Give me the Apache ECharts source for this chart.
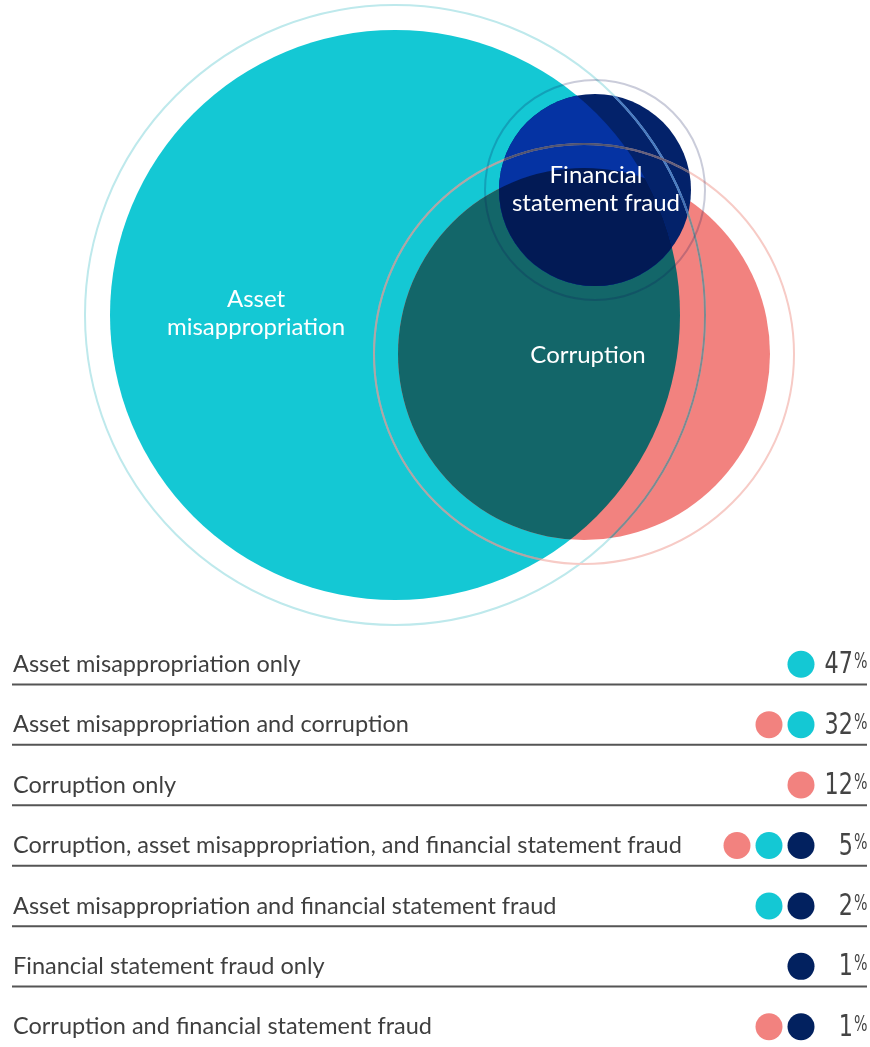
<!DOCTYPE html>
<html>
<head>
<meta charset="utf-8">
<style>
  html, body { margin: 0; padding: 0; background: #fff; }
  #main { width: 870px; height: 1047px; }
</style>
<script src="https://cdn.jsdelivr.net/npm/echarts@6/dist/echarts.min.js"></script>
</head>
<body>
<div id="main"></div>
<script>
// venn circles (0 = asset misappropriation, 1 = corruption, 2 = financial statement fraud)
var setLabels = ['Asset\nmisappropriation', 'Corruption', 'Financial\nstatement fraud'];
var circleX = [395, 584, 595];
var circleY = [315, 354, 190];
var circleR = [285, 186, 96];
var ringR = [310, 210, 110];
var labelX = [256, 588, 596];
var labelY = [313, 355, 189];

// table rows
var rowNames = [
  'Asset misappropriation only',
  'Asset misappropriation and corruption',
  'Corruption only',
  'Corruption, asset misappropriation, and financial statement fraud',
  'Asset misappropriation and financial statement fraud',
  'Financial statement fraud only',
  'Corruption and financial statement fraud'
];
var rowValues = [47, 32, 12, 5, 2, 1, 1];
var rowSets = [[0], [1, 0], [1], [1, 0, 2], [0, 2], [2], [1, 2]];

var CYAN = '#14C8D4';
var SALMON = '#F2827F';
var TEAL = '#136669';
var NAVY = '#03226A';
var NAVY_ON_CYAN = '#0533A3';
var NAVY_ON_TEAL = '#021A55';
var dotColors = [CYAN, SALMON, '#02215F'];

var chart = echarts.init(document.getElementById('main'));

function circ(api, i, rr) {
  var c = api.coord([circleX[i], circleY[i]]);
  var r = api.size([rr == null ? circleR[i] : rr, 0])[0];
  return { cx: c[0], cy: c[1], r: r };
}

function renderCircle(params, api) {
  var i = params.dataIndex;
  var s = circ(api, i);
  if (i === 0) {
    return { type: 'circle', shape: s, style: { fill: CYAN } };
  }
  if (i === 1) {
    return {
      type: 'group',
      children: [
        { type: 'circle', shape: s, style: { fill: SALMON } },
        { type: 'circle', shape: s, style: { fill: TEAL },
          clipPath: { type: 'circle', shape: circ(api, 0) } }
      ]
    };
  }
  return {
    type: 'group',
    children: [
      { type: 'circle', shape: s, style: { fill: NAVY } },
      { type: 'circle', shape: s, style: { fill: NAVY_ON_CYAN },
        clipPath: { type: 'circle', shape: circ(api, 0) } },
      { type: 'group', clipPath: { type: 'circle', shape: circ(api, 0) },
        children: [
          { type: 'circle', shape: s, style: { fill: NAVY_ON_TEAL },
            clipPath: { type: 'circle', shape: circ(api, 1) } }
        ] }
    ]
  };
}

function ringEl(shape, color, clipIdx, api) {
  var el = { type: 'circle', shape: shape, style: { fill: null, stroke: color, lineWidth: 2 } };
  if (clipIdx != null) el.clipPath = { type: 'circle', shape: circ(api, clipIdx) };
  return el;
}

function renderRing(params, api) {
  var i = params.dataIndex;
  var s = circ(api, i, ringR[i]);
  var kids;
  if (i === 0) {
    kids = [
      ringEl(s, '#BEE9EC', null, api),
      ringEl(s, 'rgba(70,60,70,0.55)', 1, api),
      ringEl(s, 'rgba(60,110,190,0.9)', 2, api)
    ];
  } else if (i === 1) {
    kids = [
      ringEl(s, '#F7CBC6', null, api),
      ringEl(s, 'rgba(0,70,80,0.28)', 0, api),
      ringEl(s, 'rgba(40,50,90,0.7)', 2, api)
    ];
  } else {
    kids = [ringEl(s, 'rgba(15,25,85,0.22)', null, api)];
  }
  return { type: 'group', children: kids };
}

function renderLabel(params, api) {
  var i = params.dataIndex;
  var p = api.coord([labelX[i], labelY[i]]);
  return {
    type: 'text',
    x: p[0], y: p[1],
    style: {
      text: setLabels[i], fill: '#fff', align: 'center', verticalAlign: 'middle',
      font: '24px Lato, "Noto Sans", sans-serif', lineHeight: 28
    }
  };
}

function renderRow(params, api) {
  var i = params.dataIndex;
  var yc = api.coord([0, i])[1];
  var band = api.size([0, 1])[1];
  var left = api.coord([0, i])[0];
  var right = api.coord([1, i])[0];
  var ty = yc + 10;
  var kids = [
    { type: 'text', x: left + 1, y: ty,
      style: { text: rowNames[i], fill: '#3f3f3f', align: 'left', verticalAlign: 'middle',
        font: '23.5px Lato, "Noto Sans", sans-serif' } },
    { type: 'text', x: right - 14, y: ty + 1, scaleX: 0.8,
      style: { text: String(rowValues[i]), fill: '#444', align: 'right', verticalAlign: 'middle',
        font: '31px "Liberation Sans Narrow", "DejaVu Sans Condensed", sans-serif' } },
    { type: 'text', x: right - 13, y: ty - 12, scaleX: 0.75,
      style: { text: '%', fill: '#444', align: 'left', verticalAlign: 'top',
        font: '21px "Liberation Sans Narrow", "DejaVu Sans Condensed", sans-serif' } }
  ];
  if (i < rowNames.length - 1) {
    kids.push({ type: 'line',
      shape: { x1: left, y1: yc + band / 2, x2: right, y2: yc + band / 2 },
      style: { stroke: '#555', lineWidth: 2 } });
  }
  var sets = rowSets[i];
  for (var k = 0; k < sets.length; k++) {
    var slot = sets.length - 1 - k;
    kids.push({ type: 'circle',
      shape: { cx: right - 66 - slot * 32, cy: ty, r: 13.5 },
      style: { fill: dotColors[sets[k]] } });
  }
  return { type: 'group', children: kids };
}

var circleData = circleX.map(function (x, i) { return [x, circleY[i], circleR[i]]; });

chart.setOption({
  backgroundColor: '#fff',
  animation: false,
  grid: [
    { left: 0, top: 0, width: 870, height: 630 },
    { left: 12, top: 624, width: 855, height: 427 }
  ],
  xAxis: [
    { type: 'value', min: 0, max: 870, show: false, gridIndex: 0 },
    { type: 'value', min: 0, max: 1, show: false, gridIndex: 1 }
  ],
  yAxis: [
    { type: 'value', min: 0, max: 630, inverse: true, show: false, gridIndex: 0 },
    { type: 'category', data: rowNames, inverse: true, show: false, gridIndex: 1 }
  ],
  series: [
    { type: 'custom', xAxisIndex: 0, yAxisIndex: 0, silent: true, z: 1,
      renderItem: renderCircle, data: circleData },
    { type: 'custom', xAxisIndex: 0, yAxisIndex: 0, silent: true, z: 2,
      renderItem: renderRing, data: circleData },
    { type: 'custom', xAxisIndex: 0, yAxisIndex: 0, silent: true, z: 3,
      renderItem: renderLabel, data: circleData },
    { type: 'custom', xAxisIndex: 1, yAxisIndex: 1, silent: true, z: 3,
      renderItem: renderRow, data: rowValues.map(function (v, i) { return [0, i, v]; }) }
  ]
});
</script>
</body>
</html>
